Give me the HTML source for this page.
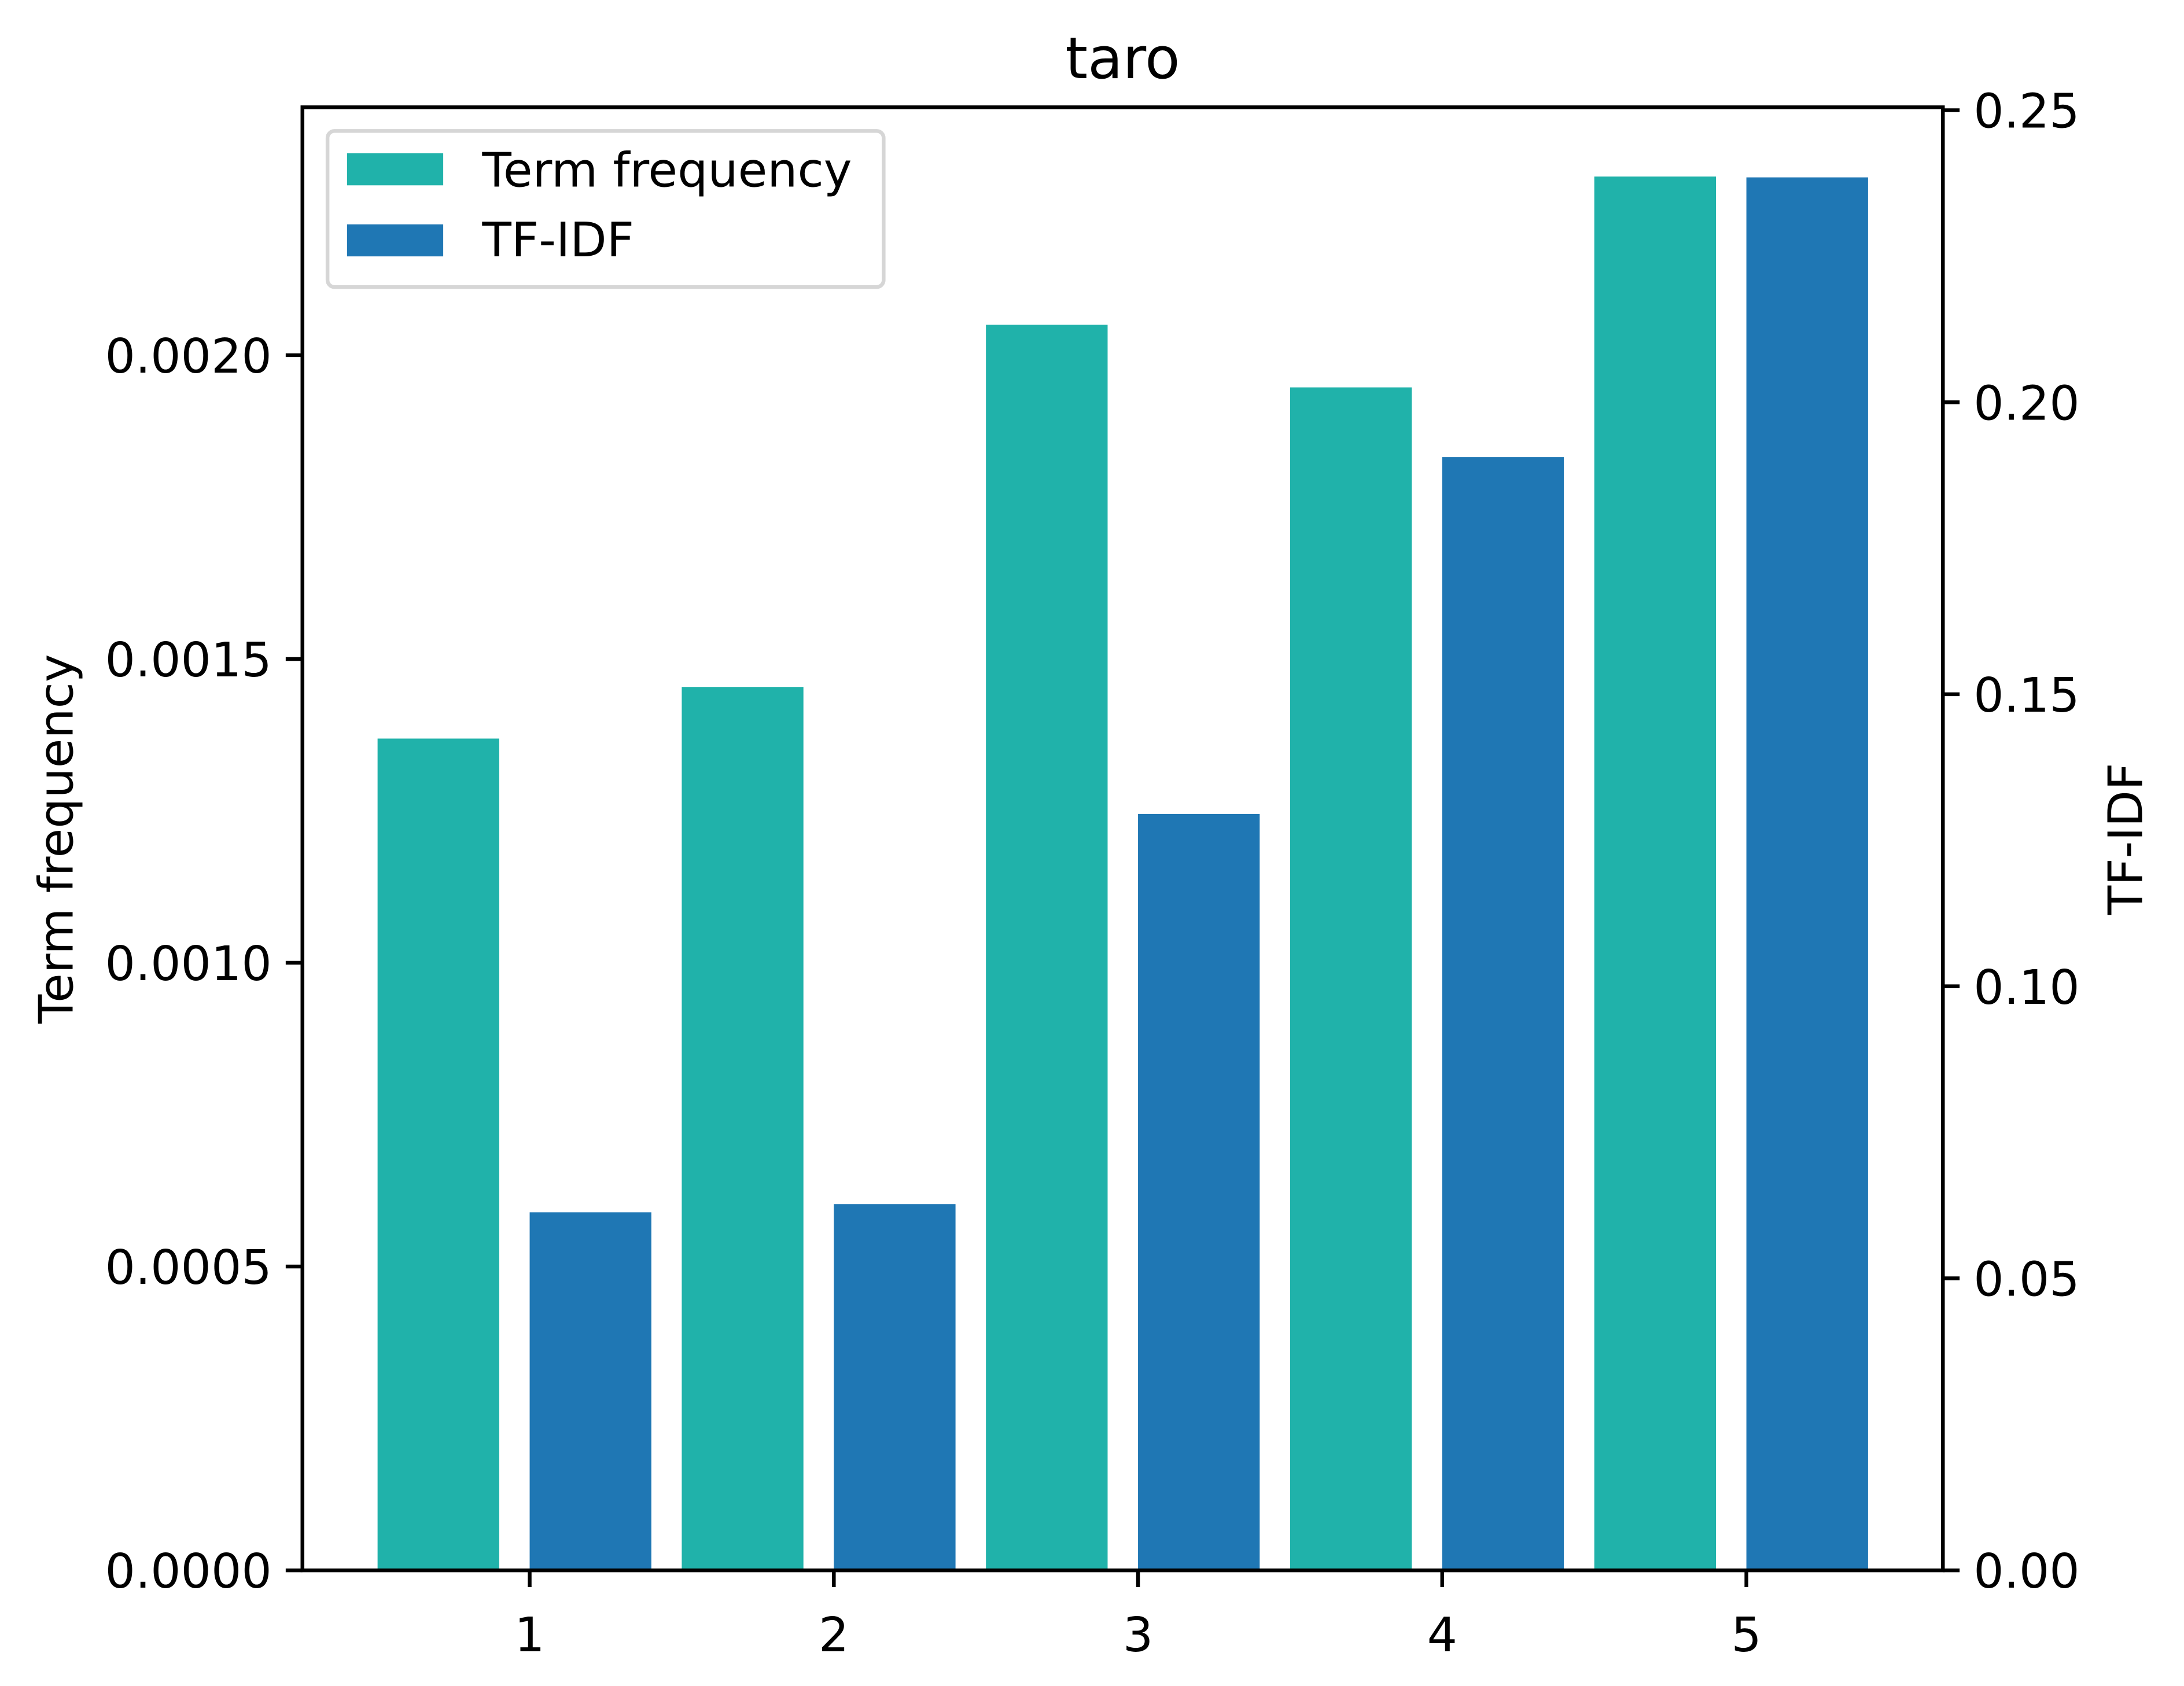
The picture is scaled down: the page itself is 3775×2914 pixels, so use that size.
<!DOCTYPE html>
<html><head><meta charset="utf-8"><style>html,body{margin:0;padding:0;background:#fff}svg{display:block}text{font-family:"DejaVu Sans","Liberation Sans",sans-serif}</style></head>
<body>
<svg id="chart" width="3775" height="2914" viewBox="0 0 1567 1210" preserveAspectRatio="none" xmlns="http://www.w3.org/2000/svg">
<rect width="1567" height="1210" fill="#fff"/>
<g id="bars"></g>
<g id="axes"></g>
</svg>
<script>
const categories = [1, 2, 3, 4, 5];
const tfValues = [0.001369, 0.001454, 0.002050, 0.001947, 0.002294];
const tfidfValues = [0.0613, 0.0627, 0.1295, 0.1906, 0.2385];
const leftTicks = ["0.0000", "0.0005", "0.0010", "0.0015", "0.0020"];
const rightTicks = ["0.00", "0.05", "0.10", "0.15", "0.20", "0.25"];
const seriesNames = ["Term frequency", "TF-IDF"];

const NS = "http://www.w3.org/2000/svg";
const L = 217, R = 1394, T = 77, B = 1127;
const xMin = 0.253, xMax = 5.646, yLMax = 0.002408, yRMax = 0.2505;
const xs = v => L + (v - xMin) / (xMax - xMin) * (R - L);
const yl = v => B - v / yLMax * (B - T);
const yr = v => B - v / yRMax * (B - T);
const FS = 34.2;
function mk(tag, attrs, parent, txt) {
  const e = document.createElementNS(NS, tag);
  for (const k in attrs) e.setAttribute(k, attrs[k]);
  if (txt !== undefined) e.textContent = txt;
  parent.appendChild(e);
  return e;
}
const bars = document.getElementById('bars');
const axes = document.getElementById('axes');
categories.forEach((c, i) => {
  const x0 = xs(c - 0.5), x1 = xs(c - 0.1);
  const b1 = mk('rect', {x: x0, y: yl(tfValues[i]), width: x1 - x0, height: B - yl(tfValues[i]), fill: '#20b2aa'}, bars);
  
  
  const x2 = xs(c), x3 = xs(c + 0.4);
  const b2 = mk('rect', {x: x2, y: yr(tfidfValues[i]), width: x3 - x2, height: B - yr(tfidfValues[i]), fill: '#1f77b4'}, bars);
  
  
});
const frame = mk('rect', {x: L, y: T, width: R - L, height: B - T, fill: 'none', stroke: '#000', 'stroke-width': 2.7}, axes);


categories.forEach(c => {
  const x = xs(c);
  mk('line', {x1: x, x2: x, y1: B, y2: B + 12, stroke: '#000', 'stroke-width': 2.7}, axes);
  const t = mk('text', {x: x, y: B + 58, 'font-size': FS, 'text-anchor': 'middle'}, axes, String(c));
  
  
});
leftTicks.forEach(s => {
  const y = yl(parseFloat(s));
  mk('line', {x1: L - 12, x2: L, y1: y, y2: y, stroke: '#000', 'stroke-width': 2.7}, axes);
  const t = mk('text', {x: L - 22, y: y + 12.5, 'font-size': FS, 'text-anchor': 'end'}, axes, s);
  
  
});
rightTicks.forEach(s => {
  const y = yr(parseFloat(s));
  mk('line', {x1: R, x2: R + 12, y1: y, y2: y, stroke: '#000', 'stroke-width': 2.7}, axes);
  const t = mk('text', {x: R + 22, y: y + 12.5, 'font-size': FS, 'text-anchor': 'start'}, axes, s);
  
  
});
const title = mk('text', {x: (L + R) / 2, y: 56, 'font-size': 41, 'text-anchor': 'middle'}, axes, 'taro');


const yt = mk('text', {x: 0, y: 0, 'font-size': FS, 'text-anchor': 'middle', transform: 'translate(52,602) rotate(-90)'}, axes, 'Term frequency');


const yt2 = mk('text', {x: 0, y: 0, 'font-size': FS, 'text-anchor': 'middle', transform: 'translate(1537,602) rotate(-90)'}, axes, 'TF-IDF');


const leg = mk('g', {}, axes);


mk('rect', {x: 235, y: 94, width: 399, height: 112, rx: 5, fill: '#fff', 'fill-opacity': 0.8, stroke: '#d6d6d6', 'stroke-width': 2.7}, leg);
const colors = ['#20b2aa', '#1f77b4'];
seriesNames.forEach((n, i) => {
  const g = mk('g', {}, leg);
  
  
  mk('rect', {x: 249, y: 110 + i * 51, width: 69, height: 23, fill: colors[i]}, g);
  mk('text', {x: 346, y: 134 + i * 50, 'font-size': FS}, g, n);
});
</script>
</body></html>
